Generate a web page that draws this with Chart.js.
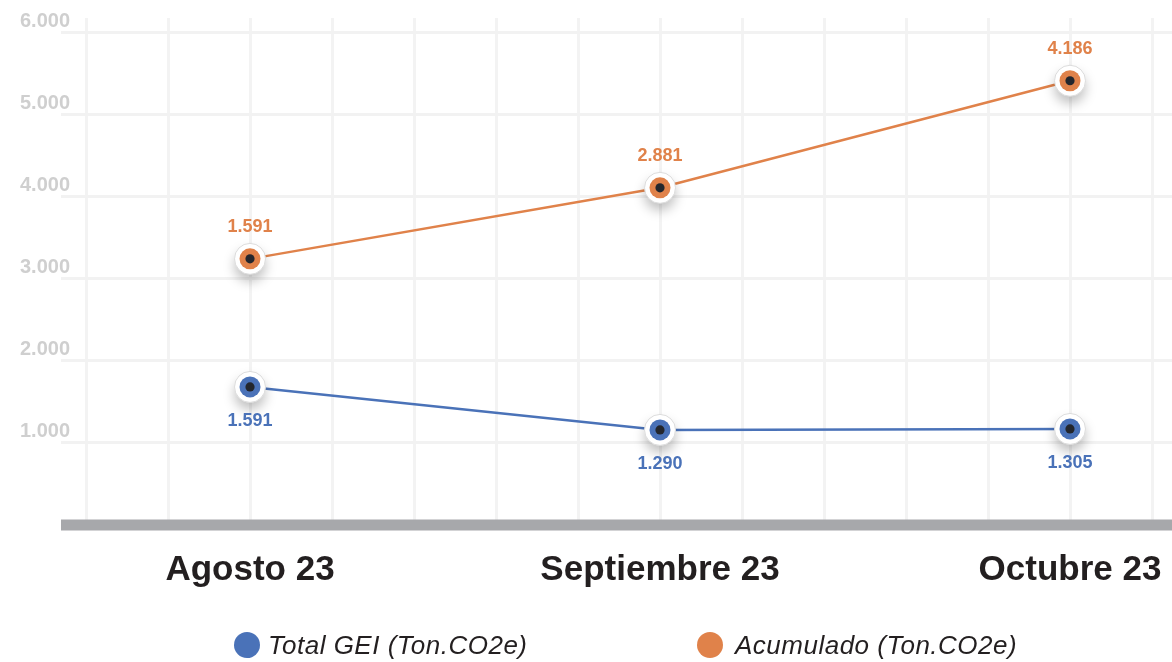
<!DOCTYPE html>
<html>
<head>
<meta charset="utf-8">
<script src="https://cdn.jsdelivr.net/npm/chart.js@4.4.0/dist/chart.umd.min.js"></script>
<style>
  html, body { margin: 0; padding: 0; background: #fff; }
  #wrap { position: relative; width: 1172px; height: 662px; overflow: hidden; }
  #box { position: absolute; left: 0; top: 0; width: 1176px; height: 662px; }
  #legend { position: absolute; left: 0; top: 0; width: 1172px; height: 662px; pointer-events: none; }
  .lg-dot { position: absolute; width: 26px; height: 26px; border-radius: 50%; }
  .lg-text { position: absolute; font: italic 26px "Liberation Sans", Arial, sans-serif; letter-spacing: 0.5px; color: #231f20; line-height: 30px; white-space: nowrap; }
</style>
</head>
<body>
<div id="wrap">
  <div id="box"><canvas id="chart"></canvas></div>
  <div id="legend"></div>
</div>
<script>
// data
const categories = ['Agosto 23', 'Septiembre 23', 'Octubre 23'];
const seriesNames = ['Total GEI (Ton.CO2e)', 'Acumulado (Ton.CO2e)'];
const totalGei = [1683, 1159, 1171];
const acumulado = [3244, 4110, 5415];
// printed value labels as shown on the chart
const totalGeiLabels = ['1.591', '1.290', '1.305'];
const acumuladoLabels = ['1.591', '2.881', '4.186'];
const yTicks = [1000, 2000, 3000, 4000, 5000, 6000];
const xGrid = [-0.4, -0.2, 0, 0.2, 0.4, 0.6, 0.8, 1, 1.2, 1.4, 1.6, 1.8, 2, 2.2];

const BLUE = '#4a72b8';
const ORANGE = '#e0824a';

function toPoints(arr) {
  return arr.map((v, i) => ({ x: i, y: v }));
}

// gray baseline at zero and y tick labels (drawn outside the scale clip)
const axisPlugin = {
  id: 'axisDeco',
  beforeDatasetsDraw(chart) {
    const ctx = chart.ctx;
    const area = chart.chartArea;
    const y0 = chart.scales.y.getPixelForValue(0);
    ctx.save();
    ctx.fillStyle = '#a7a8ab';
    ctx.fillRect(area.left, y0 - 5.5, area.right - area.left, 11);
    ctx.font = 'bold 20px "Liberation Sans", Arial, sans-serif';
    ctx.fillStyle = '#cfcfcf';
    ctx.textAlign = 'right';
    ctx.textBaseline = 'middle';
    yTicks.forEach(v => {
      ctx.fillText(v.toLocaleString('de-DE'), 70, chart.scales.y.getPixelForValue(v) - 11);
    });
    ctx.restore();
  }
};

// white ring markers + value labels
const markerPlugin = {
  id: 'markers',
  afterDatasetsDraw(chart) {
    const ctx = chart.ctx;
    chart.data.datasets.forEach((ds, i) => {
      const meta = chart.getDatasetMeta(i);
      meta.data.forEach((pt, j) => {
        ctx.save();
        ctx.shadowColor = 'rgba(0,0,0,0.25)';
        ctx.shadowBlur = 12;
        ctx.shadowOffsetY = 7;
        ctx.beginPath();
        ctx.arc(pt.x, pt.y, 15.5, 0, Math.PI * 2);
        ctx.fillStyle = '#fff';
        ctx.fill();
        ctx.restore();

        ctx.save();
        ctx.beginPath();
        ctx.arc(pt.x, pt.y, 15.5, 0, Math.PI * 2);
        ctx.strokeStyle = '#dcdcdc';
        ctx.lineWidth = 1;
        ctx.stroke();
        ctx.beginPath();
        ctx.arc(pt.x, pt.y, 10.5, 0, Math.PI * 2);
        ctx.fillStyle = ds.borderColor;
        ctx.fill();
        ctx.beginPath();
        ctx.arc(pt.x, pt.y, 4.6, 0, Math.PI * 2);
        ctx.fillStyle = '#23262d';
        ctx.fill();

        ctx.font = 'bold 18px "Liberation Sans", Arial, sans-serif';
        ctx.fillStyle = ds.borderColor;
        ctx.textAlign = 'center';
        ctx.textBaseline = 'middle';
        ctx.fillText(ds.valueLabels[j], pt.x, pt.y + ds.labelShift);
        ctx.restore();
      });
    });
  }
};

const chart = new Chart(document.getElementById('chart'), {
  type: 'line',
  data: {
    datasets: [
      {
        label: seriesNames[0],
        data: toPoints(totalGei),
        valueLabels: totalGeiLabels,
        labelShift: 34,
        borderColor: BLUE,
        backgroundColor: BLUE,
        borderWidth: 2.5,
        pointRadius: 0,
        pointHoverRadius: 0,
        tension: 0
      },
      {
        label: seriesNames[1],
        data: toPoints(acumulado),
        valueLabels: acumuladoLabels,
        labelShift: -32,
        borderColor: ORANGE,
        backgroundColor: ORANGE,
        borderWidth: 2.5,
        pointRadius: 0,
        pointHoverRadius: 0,
        tension: 0
      }
    ]
  },
  options: {
    responsive: true,
    maintainAspectRatio: false,
    animation: false,
    layout: { padding: { left: 17, right: 0, top: 18, bottom: 57 } },
    plugins: {
      legend: { display: false },
      tooltip: { enabled: false }
    },
    scales: {
      x: {
        type: 'linear',
        min: -0.461,
        max: 2.249,
        afterBuildTicks: (scale) => { scale.ticks = xGrid.map(v => ({ value: v })); },
        afterFit: (scale) => { scale.height = 80; },
        grid: { color: '#f3f3f3', lineWidth: 3, drawTicks: false },
        border: { display: false },
        ticks: {
          autoSkip: false,
          maxRotation: 0,
          padding: 24,
          color: '#231f20',
          font: { family: '"Liberation Sans", Arial, sans-serif', size: 35, weight: 'bold' },
          callback: (v) => {
            const r = Math.round(v);
            return Math.abs(v - r) < 1e-6 && categories[r] ? categories[r] : '';
          }
        }
      },
      y: {
        min: 0,
        max: 6180,
        afterBuildTicks: (scale) => { scale.ticks = yTicks.map(v => ({ value: v })); },
        afterFit: (scale) => { scale.width = 44; },
        grid: { color: '#f2f2f2', lineWidth: 3, drawTicks: false },
        border: { display: false },
        ticks: { display: false }
      }
    }
  },
  plugins: [axisPlugin, markerPlugin]
});

// legend below the chart
const legendPos = [{ dot: 234, text: 268 }, { dot: 697, text: 735 }];
const legend = document.getElementById('legend');
chart.data.datasets.forEach((ds, i) => {
  const dot = document.createElement('div');
  dot.className = 'lg-dot';
  dot.style.background = ds.borderColor;
  dot.style.left = legendPos[i].dot + 'px';
  dot.style.top = '632px';
  legend.appendChild(dot);
  const t = document.createElement('div');
  t.className = 'lg-text';
  t.textContent = ds.label;
  t.style.left = legendPos[i].text + 'px';
  t.style.top = '630px';
  legend.appendChild(t);
});
</script>
</body>
</html>
